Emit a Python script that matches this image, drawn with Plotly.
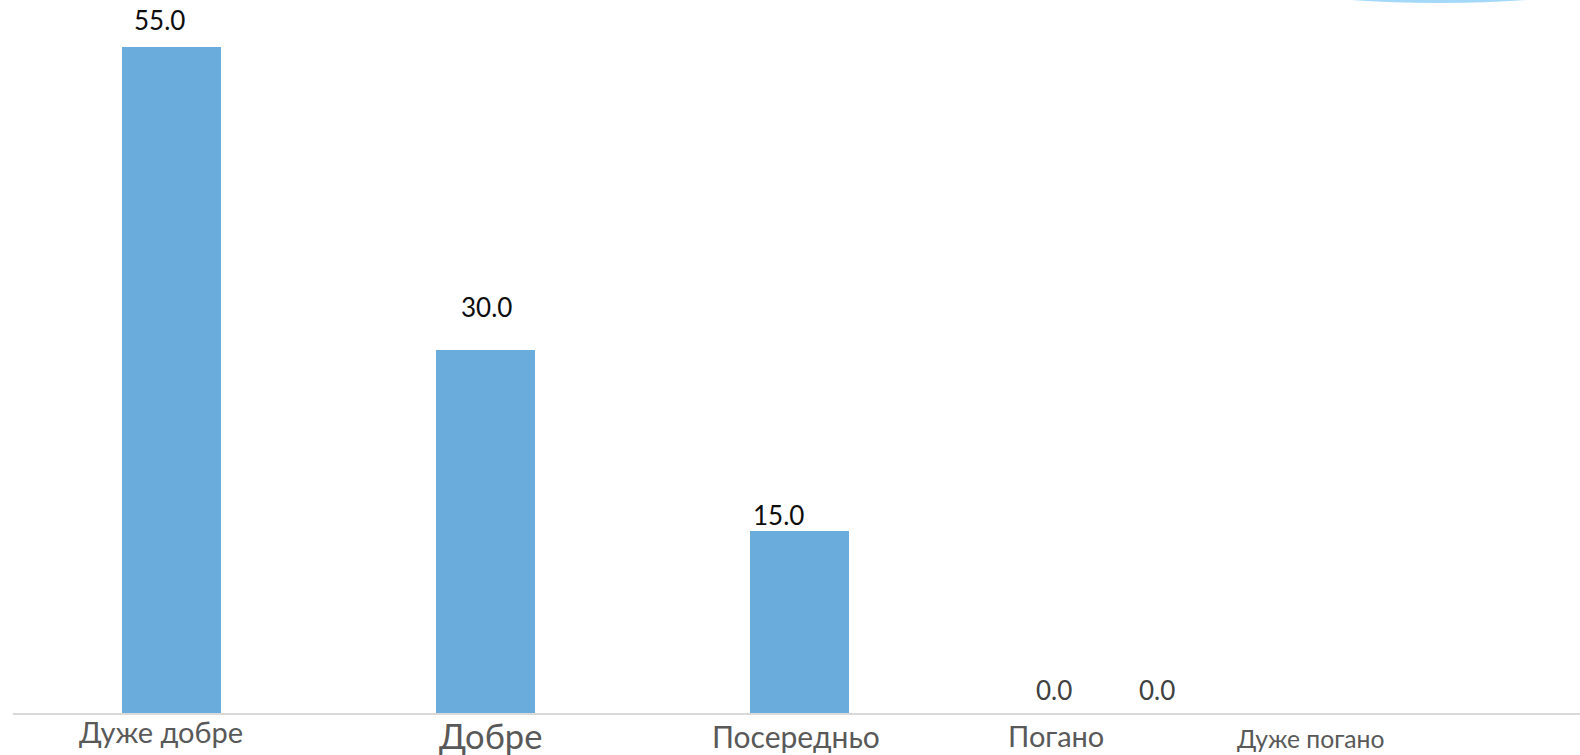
import plotly.graph_objects as go

categories = ["Дуже добре", "Добре", "Посередньо", "Погано", "Дуже погано"]
values = [55.0, 30.0, 15.0, 0.0, 0.0]
value_labels = ["55.0", "30.0", "15.0", "0.0", "0.0"]

# styling / label placement (pixel offsets reproducing the reference layout)
label_xshift = [-12, 1, -21, -60, -271]
label_yshift = [15, 31, 4, 11, 11]
label_colors = ["#0d0d0d", "#0d0d0d", "#0d0d0d", "#404040", "#404040"]
cat_xshift = [-11, 5, -4, -58, -117]
cat_sizes = [29, 34.5, 30, 29, 24.7]
cat_yshift = [1.5, 0, -3, -2.5, -9]

W, H = 1580, 755
L, B = 13, 42
fig = go.Figure()
xs = list(range(len(categories)))
fig.add_trace(go.Bar(
    x=xs, y=values, width=0.315,
    marker=dict(color="#6aacdc", line=dict(width=0)),
    hoverinfo="skip", showlegend=False,
))

for i, (v, t) in enumerate(zip(values, value_labels)):
    fig.add_annotation(
        x=xs[i], y=v, xref="x", yref="y", text=t, showarrow=False,
        xanchor="center", yanchor="bottom", xshift=label_xshift[i], yshift=label_yshift[i] - 6,
        font=dict(family="Lato, 'Noto Sans', sans-serif", size=26, color=label_colors[i]),
    )

for i, c in enumerate(categories):
    fig.add_annotation(
        x=xs[i], y=0, xref="x", yref="paper", text=c, showarrow=False,
        xanchor="center", yanchor="top", xshift=cat_xshift[i], yshift=cat_yshift[i],
        font=dict(family="Lato, 'Noto Sans', sans-serif", size=cat_sizes[i], color="#595959"),
    )

plot_w = W - L
plot_h = H - B
def px_x(p):
    return (p - L) / plot_w
def px_y(p):
    return (H - B - p) / plot_h

fig.add_shape(type="circle", xref="paper", yref="paper",
              x0=px_x(1239), x1=px_x(1639), y0=px_y(1.5), y1=px_y(-60),
              line=dict(color="#a3d8f8", width=3), fillcolor="rgba(0,0,0,0)", layer="above")

fig.update_layout(
    width=W, height=H,
    margin=dict(l=L, r=0, t=0, b=B, autoexpand=False),
    plot_bgcolor="white", paper_bgcolor="white",
    xaxis=dict(range=[-0.505, 4.485], showticklabels=False, ticks="", showgrid=False,
               zeroline=False, showline=True, linecolor="#d9d9d9", linewidth=2),
    yaxis=dict(range=[0, 58.85], visible=False, showgrid=False, zeroline=False),
    bargap=0,
)

fig.write_html("out.html", config={"displayModeBar": False},
               post_script="document.body.style.margin='0';document.body.style.overflow='hidden';")
